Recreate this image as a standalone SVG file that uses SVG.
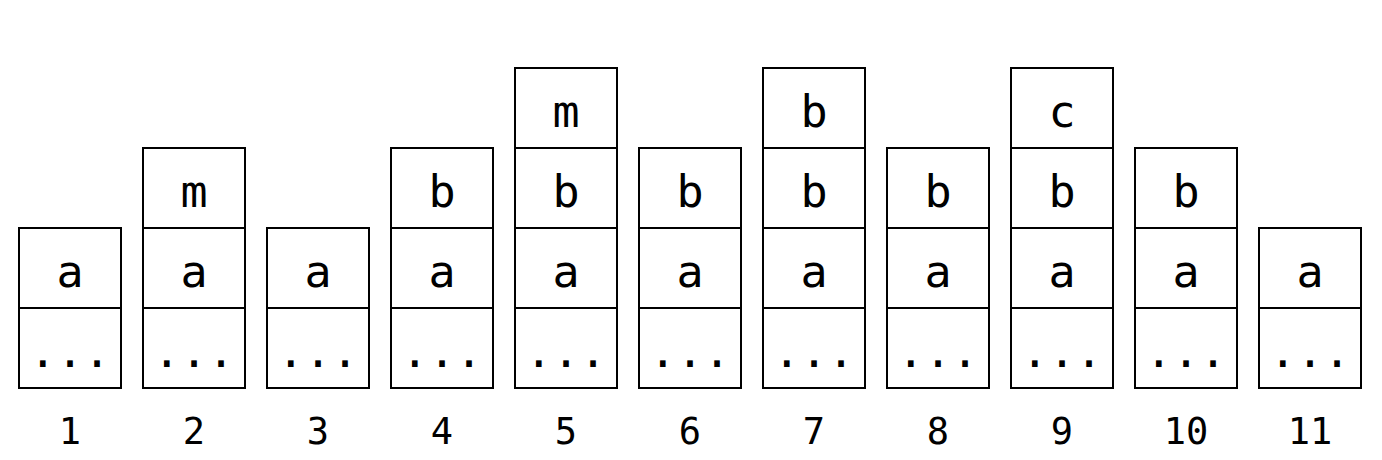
<svg xmlns="http://www.w3.org/2000/svg" width="1382" height="460" viewBox="0 0 1382 460">
<style>
.c{fill:#fff;stroke:#000;stroke-width:2}
.t{font-family:"DejaVu Sans Mono",monospace;font-size:45px;text-anchor:middle;fill:#000}
.n{font-family:"DejaVu Sans Mono",monospace;font-size:37px;text-anchor:middle;fill:#000}
</style>
<rect width="1382" height="460" fill="#fff"/>
<g id="stack1" transform="translate(19,0)">
<rect class="c" x="0" y="308" width="102" height="80"/><text class="t" x="51" y="367">...</text>
<rect class="c" x="0" y="228" width="102" height="80"/><text class="t" x="51" y="287">a</text>
<text class="n" x="51" y="444">1</text>
</g>
<g id="stack2" transform="translate(143,0)">
<rect class="c" x="0" y="308" width="102" height="80"/><text class="t" x="51" y="367">...</text>
<rect class="c" x="0" y="228" width="102" height="80"/><text class="t" x="51" y="287">a</text>
<rect class="c" x="0" y="148" width="102" height="80"/><text class="t" x="51" y="207">m</text>
<text class="n" x="51" y="444">2</text>
</g>
<g id="stack3" transform="translate(267,0)">
<rect class="c" x="0" y="308" width="102" height="80"/><text class="t" x="51" y="367">...</text>
<rect class="c" x="0" y="228" width="102" height="80"/><text class="t" x="51" y="287">a</text>
<text class="n" x="51" y="444">3</text>
</g>
<g id="stack4" transform="translate(391,0)">
<rect class="c" x="0" y="308" width="102" height="80"/><text class="t" x="51" y="367">...</text>
<rect class="c" x="0" y="228" width="102" height="80"/><text class="t" x="51" y="287">a</text>
<rect class="c" x="0" y="148" width="102" height="80"/><text class="t" x="51" y="207">b</text>
<text class="n" x="51" y="444">4</text>
</g>
<g id="stack5" transform="translate(515,0)">
<rect class="c" x="0" y="308" width="102" height="80"/><text class="t" x="51" y="367">...</text>
<rect class="c" x="0" y="228" width="102" height="80"/><text class="t" x="51" y="287">a</text>
<rect class="c" x="0" y="148" width="102" height="80"/><text class="t" x="51" y="207">b</text>
<rect class="c" x="0" y="68" width="102" height="80"/><text class="t" x="51" y="127">m</text>
<text class="n" x="51" y="444">5</text>
</g>
<g id="stack6" transform="translate(639,0)">
<rect class="c" x="0" y="308" width="102" height="80"/><text class="t" x="51" y="367">...</text>
<rect class="c" x="0" y="228" width="102" height="80"/><text class="t" x="51" y="287">a</text>
<rect class="c" x="0" y="148" width="102" height="80"/><text class="t" x="51" y="207">b</text>
<text class="n" x="51" y="444">6</text>
</g>
<g id="stack7" transform="translate(763,0)">
<rect class="c" x="0" y="308" width="102" height="80"/><text class="t" x="51" y="367">...</text>
<rect class="c" x="0" y="228" width="102" height="80"/><text class="t" x="51" y="287">a</text>
<rect class="c" x="0" y="148" width="102" height="80"/><text class="t" x="51" y="207">b</text>
<rect class="c" x="0" y="68" width="102" height="80"/><text class="t" x="51" y="127">b</text>
<text class="n" x="51" y="444">7</text>
</g>
<g id="stack8" transform="translate(887,0)">
<rect class="c" x="0" y="308" width="102" height="80"/><text class="t" x="51" y="367">...</text>
<rect class="c" x="0" y="228" width="102" height="80"/><text class="t" x="51" y="287">a</text>
<rect class="c" x="0" y="148" width="102" height="80"/><text class="t" x="51" y="207">b</text>
<text class="n" x="51" y="444">8</text>
</g>
<g id="stack9" transform="translate(1011,0)">
<rect class="c" x="0" y="308" width="102" height="80"/><text class="t" x="51" y="367">...</text>
<rect class="c" x="0" y="228" width="102" height="80"/><text class="t" x="51" y="287">a</text>
<rect class="c" x="0" y="148" width="102" height="80"/><text class="t" x="51" y="207">b</text>
<rect class="c" x="0" y="68" width="102" height="80"/><text class="t" x="51" y="127">c</text>
<text class="n" x="51" y="444">9</text>
</g>
<g id="stack10" transform="translate(1135,0)">
<rect class="c" x="0" y="308" width="102" height="80"/><text class="t" x="51" y="367">...</text>
<rect class="c" x="0" y="228" width="102" height="80"/><text class="t" x="51" y="287">a</text>
<rect class="c" x="0" y="148" width="102" height="80"/><text class="t" x="51" y="207">b</text>
<text class="n" x="51" y="444">10</text>
</g>
<g id="stack11" transform="translate(1259,0)">
<rect class="c" x="0" y="308" width="102" height="80"/><text class="t" x="51" y="367">...</text>
<rect class="c" x="0" y="228" width="102" height="80"/><text class="t" x="51" y="287">a</text>
<text class="n" x="51" y="444">11</text>
</g>
<g id="connectors"></g>
</svg>
